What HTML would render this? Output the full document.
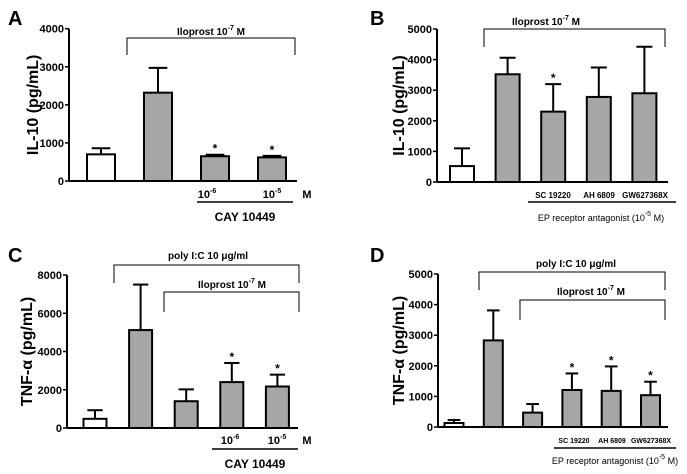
<!DOCTYPE html>
<html><head><meta charset="utf-8"><style>
html,body{margin:0;padding:0;background:#fff;}
svg{display:block;font-family:"Liberation Sans",Arial,sans-serif;}
</style></head><body>
<svg id="fig" width="687" height="474" viewBox="0 0 687 474"></svg>
<script>
// Panel A
const catsA = ["control","iloprost","cay-1e-6","cay-1e-5"];
const valsA = [700, 2320, 650, 620];
const errA = [160, 650, 40, 40];
const fillA = ["white","gray","gray","gray"];
const starA = [false,false,true,true];
const ticksA = [0,1000,2000,3000,4000];
// Panel B
const catsB = ["control","iloprost","SC 19220","AH 6809","GW627368X"];
const valsB = [520, 3520, 2300, 2780, 2900];
const errB = [580, 540, 900, 960, 1520];
const fillB = ["white","gray","gray","gray","gray"];
const starB = [false,false,true,false,false];
const ticksB = [0,1000,2000,3000,4000,5000];
// Panel C
const catsC = ["control","polyIC","iloprost","cay-1e-6","cay-1e-5"];
const valsC = [480, 5120, 1400, 2400, 2170];
const errC = [450, 2380, 620, 1000, 620];
const fillC = ["white","gray","gray","gray","gray"];
const starC = [false,false,false,true,true];
const ticksC = [0,2000,4000,6000,8000];
// Panel D
const catsD = ["control","polyIC","iloprost","SC 19220","AH 6809","GW627368X"];
const valsD = [130, 2830, 470, 1210, 1180, 1040];
const errD = [100, 980, 280, 540, 800, 440];
const fillD = ["white","gray","gray","gray","gray","gray"];
const starD = [false,false,false,true,true,true];
const ticksD = [0,1000,2000,3000,4000,5000];

const NS = "http://www.w3.org/2000/svg";
const svg = document.getElementById("fig");
function mk(tag, attrs, parent, text){
  const e = document.createElementNS(NS, tag);
  for (const k in attrs) e.setAttribute(k, attrs[k]);
  if (text !== undefined) e.textContent = text;
  (parent||svg).appendChild(e);
  return e;
}

function panel(p){
  const g = mk("g", {});
  
  
  const y = v => p.y0 - (v / p.max) * (p.y0 - p.yTop);
  const x = i => p.x0 + i * p.step;
  const L = mk("text", {x:p.lx, y:p.ly, "font-size":20, "font-weight":"bold"}, g, p.id);
  
  
  const ax = mk("g", {}, g);
  
  
  mk("line", {x1:p.ax, y1:y(p.max), x2:p.ax, y2:p.y0, stroke:"#000","stroke-width":2}, ax);
  p.ticks.forEach(t => {
    mk("line", {x1:p.ax-4, y1:y(t), x2:p.ax, y2:y(t), stroke:"#000","stroke-width":1.5}, ax);
    const tl = mk("text", {x:p.ax-5, y:y(t)+4, "font-size":11, "font-weight":"bold", "text-anchor":"end"}, ax, t);
    
    
  });
  const yt = mk("text", {x:0, y:0, "font-size":16, "font-weight":"bold", "text-anchor":"middle",
    transform:`translate(${p.tx},${(p.y0+p.yTop)/2}) rotate(-90)`}, g, p.title);
  
  
  const xa = mk("line", {x1:p.ax, y1:p.y0, x2:p.xEnd, y2:p.y0, stroke:"#000","stroke-width":2}, g);
  
  
  p.vals.forEach((v,i) => {
    const cx = x(i);
    const b = mk("rect", {x:cx-p.bw/2, y:y(v), width:p.bw, height:p.y0-y(v),
      fill:p.fill[i]==="white"?"#fff":"#a6a6a6", stroke:"#000","stroke-width":2}, g);
    
    
    const top = y(v + p.err[i]);
    const e = mk("g", {}, g);
    
    
    mk("line", {x1:cx, y1:y(v), x2:cx, y2:top, stroke:"#000","stroke-width":2}, e);
    mk("line", {x1:cx-p.bw/3, y1:top, x2:cx+p.bw/3, y2:top, stroke:"#000","stroke-width":2}, e);
    if (p.star[i]) {
      const s = mk("text", {x:cx, y:top-2, "font-size":12, "font-weight":"bold", "text-anchor":"middle"}, g, "*");
      
      
    }
  });
  p.brackets.forEach(b => {
    const bg = mk("g", {}, g);
    
    
    mk("polyline", {points:`${b.x1},${b.yb} ${b.x1},${b.yt} ${b.x2},${b.yt} ${b.x2},${b.yb}`, fill:"none", stroke:"#000","stroke-width":1}, bg);
    const t = mk("text", {x:b.lx, y:b.ly, "font-size":10, "font-weight":"bold", "text-anchor":"middle"}, bg);
    t.innerHTML = b.html;
  });
  p.labels.forEach(l => {
    const t = mk("text", {x:l.x, y:l.y, "font-size":l.fs||11, "font-weight":l.fw||"bold", "text-anchor":l.anchor||"middle"}, g);
    t.innerHTML = l.html;
    
    
  });
  if (p.uline) {
    const u = mk("line", {x1:p.uline[0], y1:p.uline[2], x2:p.uline[1], y2:p.uline[2], stroke:"#000","stroke-width":1.5}, g);
    
    
  }
}
const sup = s => `<tspan dy="-5" font-size="7">${s}</tspan><tspan dy="5"> </tspan>`;
const ilo = "Iloprost 10" + sup("-7") + "M";
const poly = "poly  I:C 10 \u03bcg/ml";

panel({id:"A", lx:8, ly:25, title:"IL-10 (pg/mL)", tx:38, ax:69, y0:181, yTop:28.7, max:4000, ticks:ticksA,
  x0:101, step:57, bw:28, xEnd:297, cats:catsA, vals:valsA, err:errA, fill:fillA, star:starA,
  brackets:[{x1:127,x2:295,yt:38,yb:55,lx:211,ly:35,html:ilo}],
  labels:[{x:207,y:198,html:"10"+sup("-6")},{x:272,y:198,html:"10"+sup("-5")},{x:307,y:198,html:"M"},
          {x:245,y:221,html:"CAY 10449",fs:12}],
  uline:[197,293,202]});
panel({id:"B", lx:370, ly:25, title:"IL-10 (pg/mL)", tx:404, ax:437, y0:182, yTop:29, max:5000, ticks:ticksB,
  x0:462, step:45.6, bw:24, xEnd:668, cats:catsB, vals:valsB, err:errB, fill:fillB, star:starB,
  brackets:[{x1:484,x2:665,yt:29,yb:47,lx:546,ly:25,html:ilo}],
  labels:[{x:553,y:198,html:"SC 19220",fs:8},{x:599,y:198,html:"AH 6809",fs:8},{x:645,y:198,html:"GW627368X",fs:8},
          {x:601,y:221,html:"EP receptor antagonist (10"+sup("-5")+"M)",fs:9,fw:"normal"}],
  uline:[528,676,202]});
panel({id:"C", lx:8, ly:262, title:"TNF-\u03b1 (pg/mL)", tx:32, ax:67, y0:428, yTop:275, max:8000, ticks:ticksC,
  x0:95, step:45.6, bw:23, xEnd:298, cats:catsC, vals:valsC, err:errC, fill:fillC, star:starC,
  brackets:[{x1:114,x2:299,yt:265,yb:283,lx:208,ly:259,html:poly},
            {x1:164,x2:299,yt:292,yb:312,lx:232,ly:288,html:ilo}],
  labels:[{x:230,y:444,html:"10"+sup("-6")},{x:277,y:444,html:"10"+sup("-5")},{x:307,y:444,html:"M"},
          {x:255,y:468,html:"CAY 10449",fs:12}],
  uline:[212,298,449]});
panel({id:"D", lx:370, ly:262, title:"TNF-\u03b1 (pg/mL)", tx:404, ax:438, y0:427, yTop:274, max:5000, ticks:ticksD,
  x0:454, step:39.3, bw:19, xEnd:668, cats:catsD, vals:valsD, err:errD, fill:fillD, star:starD,
  brackets:[{x1:479,x2:665,yt:272,yb:290,lx:576,ly:267,html:poly},
            {x1:520,x2:665,yt:300,yb:320,lx:591,ly:295,html:ilo}],
  labels:[{x:574,y:443,html:"SC 19220",fs:7},{x:612,y:443,html:"AH 6809",fs:7},{x:651,y:443,html:"GW627368X",fs:7},
          {x:615,y:464,html:"EP receptor antagonist (10"+sup("-5")+"M)",fs:9,fw:"normal"}],
  uline:[554,676,448]});
</script>
</body></html>
